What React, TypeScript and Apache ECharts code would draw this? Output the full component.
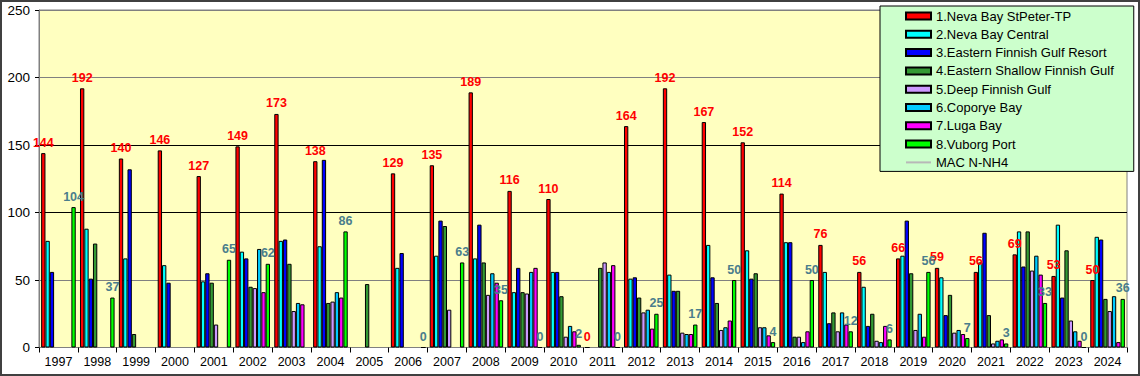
import React, { useEffect, useRef } from "react";
import * as echarts from "echarts";

const years = ["1997","1998","1999","2000","2001","2002","2003","2004","2005","2006","2007","2008","2009","2010","2011","2012","2013","2014","2015","2016","2017","2018","2019","2020","2021","2022","2023","2024"];

const nevaStPeter = [144,192,140,146,127,149,173,138,null,129,135,189,116,110,0,164,192,167,152,114,76,56,66,59,56,69,53,50];
const nevaCentral = [79,88,66,61,49,71,79,75,null,59,68,66,41,56,null,51,54,76,72,78,56,45,68,52,63,86,91,82];
const easternResort = [56,51,132,48,55,66,80,139,null,70,94,91,59,56,null,52,42,52,51,78,18,16,94,24,85,60,37,80];
const easternShallow = [null,77,10,null,48,45,62,33,47,null,90,63,41,38,59,37,42,33,55,8,26,25,55,39,24,86,72,36];
const deepFinnish = [null,null,null,null,17,44,27,34,null,null,28,39,40,8,63,26,11,13,15,8,12,5,13,11,3,57,20,27];
const coporye = [null,null,null,null,null,73,33,41,null,null,null,55,56,16,56,28,10,15,15,4,26,4,25,13,5,68,12,38];
const luga = [null,null,null,null,null,41,32,37,null,null,null,48,59,12,61,14,10,20,9,12,17,16,8,10,6,54,5,4];
const vuborg = [104,37,null,null,65,62,null,86,null,0,63,35,0,2,0,25,17,50,4,50,12,6,56,7,3,33,0,36];

const seriesNames = [
  "1.Neva Bay StPeter-TP",
  "2.Neva Bay Central",
  "3.Eastern Finnish Gulf Resort",
  "4.Eastern Shallow Finnish Gulf",
  "5.Deep Finnish Gulf",
  "6.Coporye Bay",
  "7.Luga Bay",
  "8.Vuborg Port",
];
const macName = "MAC N-NH4";
const yTicks = [0, 50, 100, 150, 200, 250];

export default function App() {
  const ref = useRef<HTMLDivElement>(null);
  useEffect(() => {
    document.body.style.margin = "0";
    if (!ref.current) return;
    const chart = echarts.init(ref.current, null, { renderer: "svg" });
    const colors = ["#ff0000", "#00ffff", "#0000ff", "#339933", "#cc99ff", "#00ccff", "#ff00ff", "#00ff00"];
    const datasets = [nevaStPeter, nevaCentral, easternResort, easternShallow, deepFinnish, coporye, luga, vuborg];
    const font = "Arial, 'Liberation Sans', sans-serif";
    const series: any[] = datasets.map((d, i) => ({
      name: seriesNames[i],
      type: "bar",
      data: d,
      barGap: "0%",
      barCategoryGap: "11%",
      itemStyle: { color: colors[i], borderColor: "#000", borderWidth: 1 },
      label:
        i === 0 || i === 7
          ? {
              show: true,
              position: "top",
              distance: 4,
              color: i === 0 ? "#ff0000" : "#4a7d8c",
              fontWeight: "bold",
              fontSize: 12.5,
              fontFamily: font,
            }
          : { show: false },
      z: 2,
    }));
    series.push({
      name: macName,
      type: "line",
      data: [],
      symbol: "none",
      showSymbol: false,
      lineStyle: { color: "#b8b8b8", width: 2 },
      itemStyle: { color: "#b8b8b8" },
    });
    chart.setOption({
      animation: false,
      backgroundColor: "#ffffff",
      grid: {
        left: 37,
        right: 11,
        top: 8,
        bottom: 26.5,
        show: true,
        backgroundColor: "#ffffc0",
        borderColor: "#808080",
        borderWidth: 1,
      },
      legend: {
        orient: "vertical",
        left: 878,
        top: 4,
        backgroundColor: "#ccffcc",
        borderColor: "#000",
        borderWidth: 1,
        padding: [3, 20, 2, 25],
        itemWidth: 25,
        itemHeight: 7,
        itemGap: 4.3,
        selectedMode: false,
        textStyle: { fontFamily: font, fontSize: 13, color: "#000", lineHeight: 14 },
        data: [
          ...seriesNames.map((n) => ({ name: n, icon: "rect" })),
          {
            name: macName,
            icon: "path://M0,0 L25,0 L25,2 L0,2 Z",
            itemStyle: { color: "#b8b8b8", borderWidth: 0 },
            itemHeight: 2,
          },
        ],
      },
      xAxis: {
        type: "category",
        data: years,
        axisLine: { lineStyle: { color: "#808080" } },
        axisTick: { show: true, length: 5, lineStyle: { color: "#000" } },
        axisLabel: { color: "#000", fontFamily: font, fontSize: 12.5, margin: 8 },
      },
      yAxis: {
        type: "value",
        min: yTicks[0],
        max: yTicks[yTicks.length - 1],
        interval: 50,
        axisLine: { show: true, lineStyle: { color: "#808080" } },
        axisTick: { show: true, length: 4, lineStyle: { color: "#000" } },
        axisLabel: { color: "#000", fontFamily: font, fontSize: 13.5, margin: 9 },
        splitLine: {
          show: true,
          lineStyle: { color: ["#808080", "#808080", "#000000", "#000000", "#808080", "#808080"], width: 1 },
        },
      },
      series,
    });
    return () => chart.dispose();
  }, []);
  return (
    <div
      ref={ref}
      style={{ width: 1140, height: 376, boxSizing: "border-box", border: "2px solid #404040" }}
    />
  );
}
